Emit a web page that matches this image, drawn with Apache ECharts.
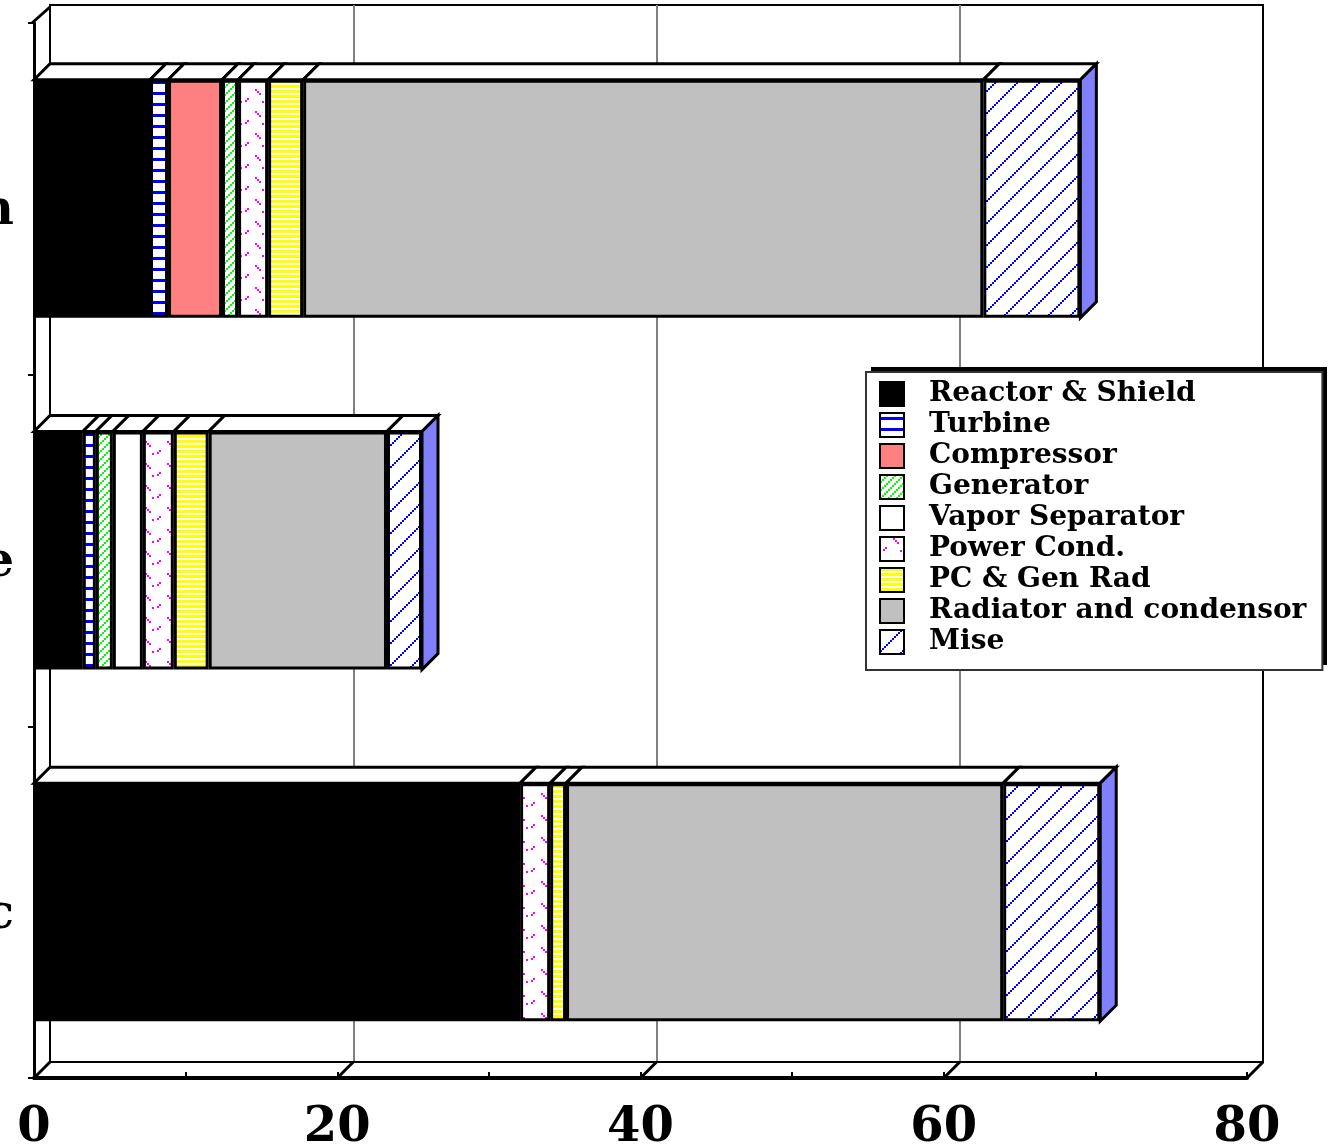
<!DOCTYPE html>
<html>
<head>
<meta charset="utf-8">
<script src="https://cdn.jsdelivr.net/npm/echarts@6/dist/echarts.min.js"></script>
<style>
  html, body { margin: 0; padding: 0; background: #fff; }
  #chart { width: 1332px; height: 1148px; }
</style>
</head>
<body>
<div id="chart"></div>
<script>
// categories, bottom to top
var categories = ["Thermoelectric", "Rankine", "Brayton"];
var components = [
  "Reactor & Shield", "Turbine", "Compressor", "Generator", "Vapor Separator",
  "Power Cond.", "PC & Gen Rad", "Radiator and condensor", "Mise"
];
// values (same order as categories)
var reactorShield = [32.06, 3.22, 7.65];
var turbine       = [0, 0.86, 1.19];
var compressor    = [0, 0, 3.56];
var generator     = [0, 1.12, 1.06];
var vaporSep      = [0, 1.98, 0];
var powerCond     = [1.98, 2.04, 1.98];
var pcGenRad      = [1.05, 2.3, 2.31];
var radiator      = [28.83, 11.76, 44.86];
var mise          = [6.4, 2.31, 6.4];
var xTicks = [0, 20, 40, 60, 80];

var seriesValues = [reactorShield, turbine, compressor, generator, vaporSep,
  powerCond, pcGenRad, radiator, mise];

var D = 16;            // 3d depth in px
var BAR_RATIO = 0.677; // bar thickness / band
var FONT = "DejaVu Serif";

// small canvas tiles used as fill patterns
function tile(w, h, draw) {
  var c = document.createElement("canvas");
  c.width = w;
  c.height = h;
  var ctx = c.getContext("2d");
  ctx.fillStyle = "#fff";
  ctx.fillRect(0, 0, w, h);
  draw(ctx);
  return { image: c, repeat: "repeat" };
}

var fills = [
  "#000000",
  tile(4, 11, function (ctx) {
    ctx.fillStyle = "#0000ff";
    ctx.fillRect(0, 4, 4, 3);
  }),
  "#ff8080",
  tile(8, 8, function (ctx) {
    ctx.fillStyle = "#00ff00";
    for (var i = 0; i < 4; i++) ctx.fillRect(i * 2, 6 - i * 2, 2, 2);
  }),
  "#ffffff",
  tile(22, 22, function (ctx) {
    ctx.fillStyle = "#ff00ff";
    ctx.fillRect(13, 1, 2, 2);
    ctx.fillRect(15, 3, 2, 2);
    ctx.fillRect(17, 5, 2, 2);
    ctx.fillRect(5, 10, 2, 2);
    ctx.fillRect(3, 12, 2, 2);
    ctx.fillRect(20, 13, 2, 2);
  }),
  tile(4, 5, function (ctx) {
    ctx.fillStyle = "#ffff00";
    ctx.fillRect(0, 0, 4, 3);
  }),
  "#c0c0c0",
  tile(22, 22, function (ctx) {
    ctx.fillStyle = "#0000ff";
    for (var i = 0; i < 11; i++) ctx.fillRect(i * 2, 20 - i * 2, 2, 2);
  })
];

var series = components.map(function (name, k) {
  return {
    name: name,
    type: "bar",
    stack: "total",
    xAxisIndex: 0,
    yAxisIndex: 0,
    barWidth: BAR_RATIO * 100 + "%",
    z: 3,
    emphasis: { disabled: true },
    itemStyle: { color: fills[k], borderColor: "#000", borderWidth: 3 },
    data: seriesValues[k].map(function (v) { return v > 0 ? v : "-"; })
  };
});

// top faces of each segment + blue end face
series.push({
  type: "custom",
  name: "faces",
  xAxisIndex: 0,
  yAxisIndex: 0,
  z: 4,
  silent: true,
  data: categories.map(function (c, i) { return [0, i]; }),
  encode: { x: 0, y: 1 },
  renderItem: function (params, api) {
    var ci = api.value(1);
    var center = api.coord([0, ci]);
    var half = api.size([0, 1])[1] * BAR_RATIO / 2;
    var yTop = center[1] - half, yBot = center[1] + half;
    var children = [];
    var acc = 0;
    seriesValues.forEach(function (vals) {
      var v = vals[ci];
      if (!v) return;
      var x0 = api.coord([acc, ci])[0];
      acc += v;
      var x1 = api.coord([acc, ci])[0];
      children.push({
        type: "polygon",
        shape: { points: [[x0, yTop], [x1, yTop], [x1 + D, yTop - D], [x0 + D, yTop - D]] },
        style: { fill: "#fff", stroke: "#000", lineWidth: 3 }
      });
    });
    var xe = api.coord([acc, ci])[0];
    children.push({
      type: "polygon",
      shape: { points: [[xe, yTop], [xe + D, yTop - D], [xe + D, yBot - D], [xe, yBot]] },
      style: { fill: "#8080ff", stroke: "#000", lineWidth: 3 }
    });
    return { type: "group", children: children };
  }
});

// floor depth lines at the major ticks, and the top edge of the left wall
series.push({
  type: "custom",
  name: "frame",
  xAxisIndex: 0,
  yAxisIndex: 0,
  z: 1,
  silent: true,
  data: xTicks.map(function (v) { return [v, 0]; }),
  encode: { x: 0, y: 1 },
  renderItem: function (params, api) {
    var band = api.size([0, 1])[1];
    var p = api.coord([api.value(0), 0]);
    var yb = p[1] + band / 2;
    var children = [{
      type: "line",
      shape: { x1: p[0], y1: yb, x2: p[0] + D, y2: yb - D },
      style: { stroke: "#000", lineWidth: 3 }
    }];
    if (params.dataIndex === 0) {
      var yt = api.coord([0, categories.length - 1])[1] - band / 2;
      children.push({
        type: "line",
        shape: { x1: p[0] - 2, y1: yt, x2: p[0] + D, y2: yt - D },
        style: { stroke: "#000", lineWidth: 3 }
      });
    }
    return { type: "group", children: children };
  }
});

var option = {
  animation: false,
  backgroundColor: "#fff",
  // black drop shadow behind the legend box
  graphic: [{
    type: "rect",
    left: 871,
    top: 367,
    z: 3,
    shape: { width: 456, height: 298 },
    style: { fill: "#000" }
  }],
  grid: [
    { // front
      left: 34, right: 85, top: 23, bottom: 70,
      containLabel: false, outerBoundsMode: "none"
    },
    { // back wall
      left: 50, right: 69, top: 5, bottom: 86,
      show: true, borderColor: "#000", borderWidth: 2,
      backgroundColor: "transparent",
      containLabel: false, outerBoundsMode: "none"
    }
  ],
  xAxis: [
    {
      gridIndex: 0,
      type: "value",
      min: 0, max: 80, interval: 10,
      axisLine: { show: true, lineStyle: { color: "#000", width: 4 } },
      axisTick: { show: true, inside: true, length: 6, lineStyle: { color: "#000", width: 2 } },
      splitLine: { show: false },
      axisLabel: {
        margin: 27,
        color: "#000",
        fontFamily: FONT,
        fontWeight: "bold",
        fontSize: 48,
        formatter: function (v) { return v % 20 === 0 ? String(v) : ""; }
      }
    },
    {
      gridIndex: 1,
      type: "value",
      min: 0, max: 80, interval: 20,
      axisLine: { show: true, lineStyle: { color: "#000", width: 2 } },
      axisTick: { show: false },
      axisLabel: { show: false },
      splitLine: { show: true, showMinLine: false, showMaxLine: false,
        lineStyle: { color: "#808080", width: 2 } }
    }
  ],
  yAxis: [
    {
      gridIndex: 0,
      type: "category",
      data: categories,
      axisLine: { show: true, lineStyle: { color: "#000", width: 3 } },
      axisTick: { show: true, length: 6, lineStyle: { color: "#000", width: 2 } },
      splitLine: { show: false },
      axisLabel: {
        margin: 20,
        verticalAlign: "top",
        lineHeight: 26,
        color: "#000",
        fontFamily: FONT,
        fontWeight: "bold",
        fontSize: 48
      }
    },
    {
      gridIndex: 1,
      type: "category",
      data: categories,
      axisLine: { show: true, lineStyle: { color: "#000", width: 2 } },
      axisTick: { show: false },
      axisLabel: { show: false },
      splitLine: { show: false }
    }
  ],
  legend: {
    data: components,
    orient: "vertical",
    left: 866,
    top: 372,
    z: 6,
    selectedMode: false,
    icon: "rect",
    itemWidth: 24,
    itemHeight: 24,
    itemGap: 3,
    padding: [8, 16, 14, 13],
    backgroundColor: "#fff",
    borderColor: "#333",
    borderWidth: 2,
    itemStyle: { borderColor: "#000", borderWidth: 2 },
    textStyle: {
      color: "#000",
      fontFamily: FONT,
      fontWeight: "bold",
      fontSize: 28,
      padding: [0, 0, 0, 20]
    }
  },
  series: series
};

var myChart = echarts.init(document.getElementById("chart"));
myChart.setOption(option);
</script>
</body>
</html>
